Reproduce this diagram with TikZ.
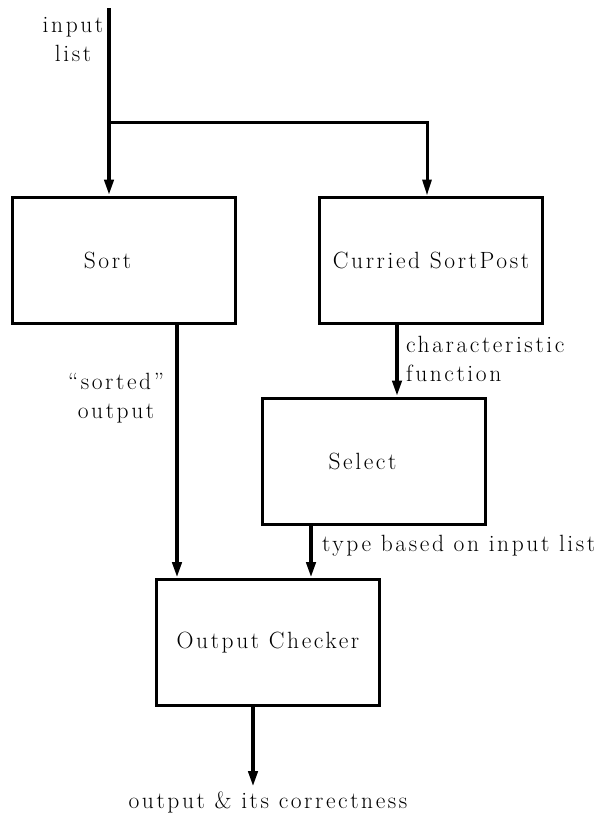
\documentclass[tikz,border=0pt]{standalone}
\usepackage{fontspec}
\setmainfont{Latin Modern Roman}[LetterSpace=11]
\usepackage{tikz}
\usetikzlibrary{arrows.meta}
\tikzset{
  stage/.style={draw, line width=3pt, minimum width=223pt, minimum height=126pt, inner sep=0pt},
  flow/.style={line width=4pt, -{Triangle[length=16pt,width=9pt]}},
  lbl/.style={align=center, inner sep=0pt}
}

\begin{document}
\begin{tikzpicture}[x=1pt, y=-1pt, font=\fontsize{23.5}{29}\selectfont]
\useasboundingbox (0,0) rectangle (600,817);

% Boxes
\node[stage] (sort) at (123.5,260) {\hspace*{-32pt}Sort};
\node[stage] (curried) at (431,260) {Curried SortPost};
\node[stage] (select) at (373.5,461) {\hspace*{-22pt}Select};
\node[stage] (checker) at (268,642.5) {Output Checker};

% Input list and its split
\coordinate (in) at (109,8);
\coordinate (split) at (109,122);
\coordinate (out) at (253,787);
\draw[flow] (in) -- (sort.north -| in);
\draw[line width=3pt, -{Triangle[length=16pt,width=9pt]}] (split) -| ([xshift=-4pt]curried.north);

% Flows between boxes
\draw[flow] ([xshift=53.5pt]sort.south) -- ([xshift=-91pt]checker.north);
\draw[flow] ([xshift=-34pt]curried.south) -- ([xshift=23.5pt]select.north);
\draw[flow] ([xshift=-62.5pt]select.south) -- ([xshift=43pt]checker.north);
\draw[flow] ([xshift=-15pt]checker.south) -- (out);

% Labels
\node[lbl] (inlbl) at (73,40) {input\\list};
\node[lbl] (sortedlbl) at (116,398) {``sorted''\\output};
\node[lbl, align=left, anchor=west] (charlbl) at (406,359) {characteristic\\function};
\node[lbl, anchor=west] (typelbl) at (322,546) {type based on input list};
\node[lbl] (outlbl) at (268,802) {output \& its correctness};
\end{tikzpicture}
\end{document}
